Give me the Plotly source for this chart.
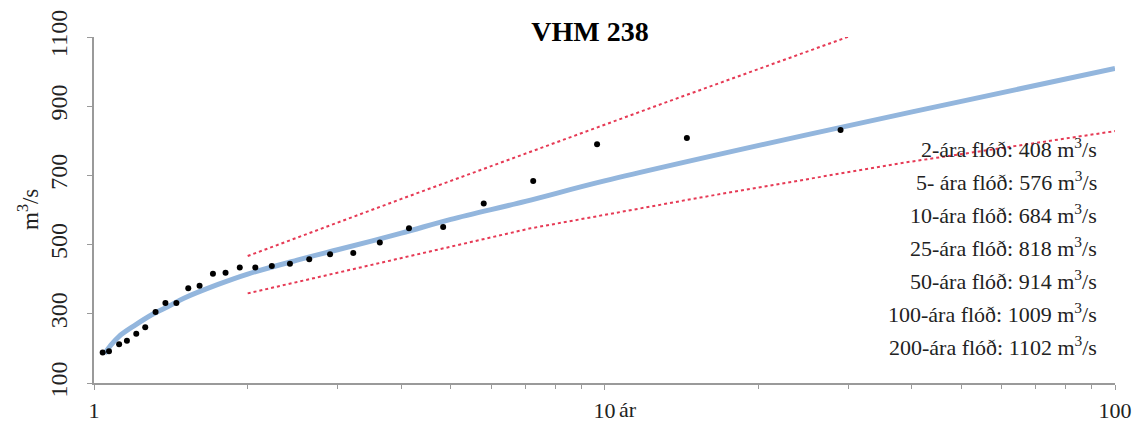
import plotly.graph_objects as go

# Observed annual maxima (return period in years, discharge m3/s)
obs_T = [1.04, 1.07, 1.12, 1.16, 1.21, 1.26, 1.32, 1.38, 1.45, 1.53, 1.61, 1.71, 1.81, 1.93,
         2.07, 2.23, 2.42, 2.64, 2.9, 3.22, 3.63, 4.14, 4.83, 5.8, 7.25, 9.67, 14.5, 29.0]
obs_Q = [188, 192, 212, 222, 242, 261, 305, 331, 331, 374, 381, 416, 419, 434,
         434, 438, 445, 458, 472, 476, 506, 547, 551, 619, 684, 790, 808, 831]

# Fitted frequency curve
fit_T = [1.05, 1.08, 1.12, 1.2, 1.3, 1.4, 1.5, 1.75, 2, 2.5, 3, 4, 5, 7, 10, 25, 50, 100]
fit_Q = [185, 210, 235, 266, 298, 322, 345, 385, 415, 455, 485, 533, 573, 625, 684, 818, 914, 1009]

# Confidence bounds
up_T = [2.0, 4.0, 13.3, 31.0]
up_Q = [467, 632, 913, 1108]
lo_T = [2.0, 4.0, 7.16, 15.4, 37.9, 100]
lo_Q = [359, 461, 547, 636, 735, 828]

# Annotation table
ret_labels = ["2-ára", "5- ára", "10-ára", "25-ára", "50-ára", "100-ára", "200-ára"]
ret_values = [408, 576, 684, 818, 914, 1009, 1102]

x_tickvals = [1, 10, 100]
x_ticktext = ["1", "10", "100"]
y_tickvals = [100, 300, 500, 700, 900, 1100]

FONT = "Liberation Serif, Times New Roman, serif"

# page body has an 8px margin: figure is drawn 8px right/down
OFF = 8
W, H = 1140 - OFF, 423 - OFF
PL, PR, PT, PB = 94 - OFF, 1115 - OFF, 37 - OFF, 383 - OFF  # plot area in figure px
PW, PH = PR - PL, PB - PT


def px(xs):
    return (xs - OFF - PL) / PW


def py(ys):
    return (PB - (ys - OFF)) / PH


fig = go.Figure()
fig.add_trace(go.Scatter(x=up_T, y=up_Q, mode="lines",
                         line=dict(color="#e63a55", width=2, dash="dot"), showlegend=False))
fig.add_trace(go.Scatter(x=lo_T, y=lo_Q, mode="lines",
                         line=dict(color="#e63a55", width=2, dash="dot"), showlegend=False))
fig.add_trace(go.Scatter(x=fit_T, y=fit_Q, mode="lines", line_shape="spline",
                         line=dict(color="#93b6dd", width=5), showlegend=False))
fig.add_trace(go.Scatter(x=obs_T, y=obs_Q, mode="markers",
                         marker=dict(color="black", size=6), showlegend=False))

annotations = []
for i, (lab, val) in enumerate(zip(ret_labels, ret_values)):
    yy = 148 + i * 33
    annotations.append(dict(
        text=f"{lab} flóð: {val} m<sup>3</sup>/s", x=px(1099), y=py(yy),
        xref="paper", yref="paper", xanchor="right", yanchor="middle",
        showarrow=False, font=dict(family=FONT, size=22, color="#222")))
annotations.append(dict(text="ár", x=px(617), y=py(409),
                        xref="paper", yref="paper", xanchor="left", yanchor="middle",
                        showarrow=False, font=dict(family=FONT, size=22, color="#222")))
annotations.append(dict(text="m<sup>3</sup>/s", x=px(28), y=0.5,
                        xref="paper", yref="paper", xanchor="center", yanchor="middle",
                        textangle=-90, showarrow=False,
                        font=dict(family=FONT, size=23, color="#222")))

fig.update_layout(
    width=W, height=H,
    margin=dict(l=PL, r=W - PR, t=PT, b=H - PB),
    paper_bgcolor="white", plot_bgcolor="white",
    title=dict(text="<b>VHM 238</b>", x=(590 - OFF) / W, xref="container", xanchor="center",
               y=1 - (31 - OFF) / H, yref="container", yanchor="middle",
               font=dict(family=FONT, size=28, color="black")),
    font=dict(family=FONT, size=22, color="#222"),
    annotations=annotations,
    xaxis=dict(type="log", range=[0, 2], tickvals=x_tickvals, ticktext=x_ticktext,
               showgrid=False, zeroline=False, showline=True, linecolor="#9a9a9a",
               linewidth=1.5, ticks="outside", ticklen=5, tickcolor="#9a9a9a",
               ticklabelstandoff=2, automargin=False,
               tickfont=dict(family=FONT, size=22, color="#222"),
               minor=dict(tickvals=[2, 3, 4, 5, 6, 7, 8, 9, 20, 30, 40, 50, 60, 70, 80, 90],
                          ticks="outside", ticklen=4, tickcolor="#9a9a9a", showgrid=False)),
    yaxis=dict(range=[100, 1100], tickvals=y_tickvals, tickangle=-90,
               showgrid=False, zeroline=False, showline=True, linecolor="#9a9a9a",
               linewidth=1.5, ticks="outside", ticklen=5, tickcolor="#9a9a9a",
               ticklabelstandoff=11, automargin=False,
               tickfont=dict(family=FONT, size=24, color="#222")),
)

fig.write_html("out.html")
